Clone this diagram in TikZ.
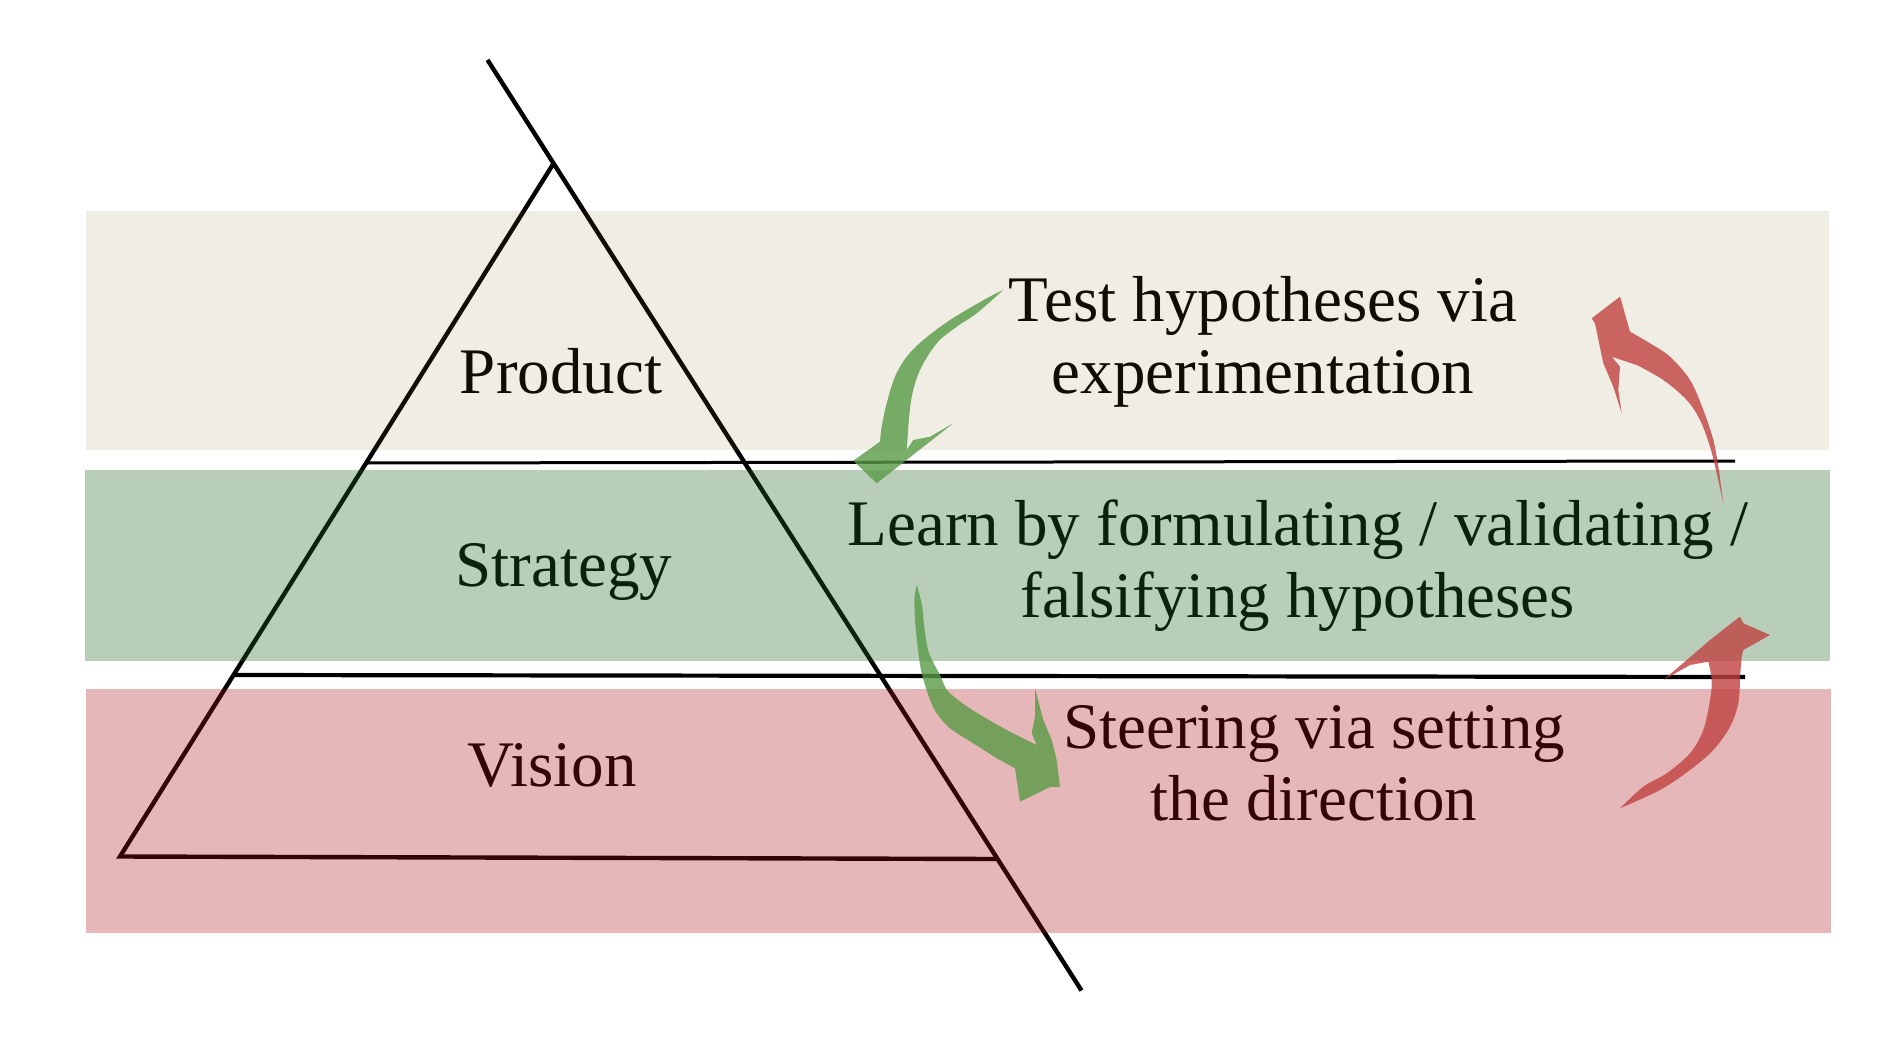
\documentclass[tikz,border=0pt]{standalone}
\usepackage{fontspec}
\setmainfont{Liberation Serif}
\definecolor{bandtop}{RGB}{138,113,47}
\definecolor{bandgreen}{RGB}{36,105,39}
\definecolor{bandred}{RGB}{175,18,22}
\definecolor{arrgreen}{RGB}{88,155,70}
\definecolor{arrred}{RGB}{192,66,64}
\tikzset{
  pyr/.style={draw=black, line width=4.4pt, line join=miter},
  sepline/.style={draw=black, line width=3pt},
  septhick/.style={draw=black, line width=4.2pt},
  lbl/.style={anchor=base, inner sep=0pt, font=\fontsize{65}{72}\selectfont},
  txt/.style={lbl, align=center},
  band/.style={draw=none},
  garrow/.style={fill=arrgreen, fill opacity=0.8, draw=none},
  rarrow/.style={fill=arrred, fill opacity=0.8, draw=none}
}
\begin{document}
\begin{tikzpicture}[x=1pt,y=-1pt]
\useasboundingbox[fill=white] (0,0) rectangle (1878,1051);
% pyramid geometry
\coordinate (top) at (487.5,59.9);
\coordinate (apex) at (553.5,163.5);
\coordinate (bl) at (120,856.5);
\coordinate (br) at (997.5,859);
\coordinate (bot) at (1081.5,990.5);
\coordinate (h1l) at (366,463);
\coordinate (h1r) at (1735,461);
\coordinate (h2l) at (233.5,675);
\coordinate (h2r) at (1745,677);
\draw[pyr] (top) -- (bot);
\draw[pyr] (apex) -- (bl) -- (br);
\draw[sepline] (h1l) -- (h1r);
\draw[septhick] (h2l) -- (h2r);
% labels
\node[lbl] (product) at (561,393) {Product};
\node[lbl] (strategy) at (564,586) {Strategy};
\node[lbl] (vision) at (552,786.5) {Vision};
\node[txt] (test) at (1263,393) {Test hypotheses via\\experimentation};
\node[txt] (learn) at (1298,617) {Learn by formulating / validating /\\falsifying hypotheses};
\node[txt] (steer) at (1314,820) {Steering via setting\\the direction};
% translucent bands
\fill[band, fill=bandtop, fill opacity=0.12] (86,211) rectangle (1829,450);
\fill[band, fill=bandgreen, fill opacity=0.32] (85,469.5) rectangle (1830,661);
\fill[band, fill=bandred, fill opacity=0.3] (86,688.7) rectangle (1831,933);
% green arrow: Test -> Learn
\fill[garrow] plot[smooth, tension=0.55] coordinates {(1003.3,290) (986.7,298.3) (950,320) (923.3,340) (906.7,356.7) (895,376.7) (886.7,403.3) (881.7,426.7) (880,441.7)}
  -- (853.3,460.7) -- (876.7,483.3) -- (953.3,423.3) -- (930,436.7) -- (913.3,440) -- (906.7,450)
  -- plot[smooth, tension=0.55] coordinates {(908.3,426.7) (911.7,396.7) (920,370) (936.7,343.3) (956.7,326.7) (976.7,313.3) (1003.3,290)} -- cycle;
% green arrow: Learn -> Steering
\fill[garrow] plot[smooth, tension=0.5] coordinates {(916.7,585) (922,605) (924,625) (928,650) (933,662) (940,675) (947,690) (962,703) (983.3,716.7) (1010,731.7) (1036.7,745)}
  -- (1031.7,733.3) -- (1035,716.7) -- (1035,688.3) -- (1043.3,720) -- (1051.7,740) -- (1056.7,760) -- (1060,786.7) -- (1050,787) -- (1020,801.7) -- (1015,768.3)
  -- plot[smooth, tension=0.5] coordinates {(996.7,758.3) (973.3,743.3) (950,728.3) (936.7,713.3) (930,700) (925,685) (921,670) (918,650) (915,620) (914.5,598) (916.7,585)} -- cycle;
% red arrow: Learn -> Test
\fill[rarrow] plot[smooth, tension=0.55] coordinates {(1723.3,503.3) (1718.3,466.7) (1713.3,440) (1703.3,410) (1690,380) (1670,356.7) (1650,343.3) (1630,331.7)}
  -- (1620,296.7) -- (1591.7,318.3) -- (1595,323.3) -- (1603.3,363.3) -- (1613.3,386.7) -- (1621.7,413.3) -- (1618.3,390) -- (1620,366.7) -- (1611.7,356.7)
  -- plot[smooth, tension=0.55] coordinates {(1636.7,365) (1663.3,380) (1686.7,400) (1700,420) (1710,446.7) (1716.7,473.3) (1723.3,503.3)} -- cycle;
% red arrow: Steering -> Learn
\fill[rarrow] plot[smooth, tension=0.55] coordinates {(1620,808.3) (1643.3,786.7) (1666.7,773.3) (1690,753.3) (1703.3,730) (1710,700) (1711.7,680) (1708.3,661.7)}
  -- (1690,665) -- (1663.3,680) -- (1686.7,660) -- (1710,640) -- (1733.3,621.7) -- (1740,616.7) -- (1743.3,623.3) -- (1770,635) -- (1743.3,650) -- (1741.7,656.7)
  -- plot[smooth, tension=0.55] coordinates {(1740,676.7) (1738.3,703.3) (1730,726.7) (1713.3,750) (1690,770) (1660,790) (1620,808.3)} -- cycle;
\end{tikzpicture}
\end{document}
